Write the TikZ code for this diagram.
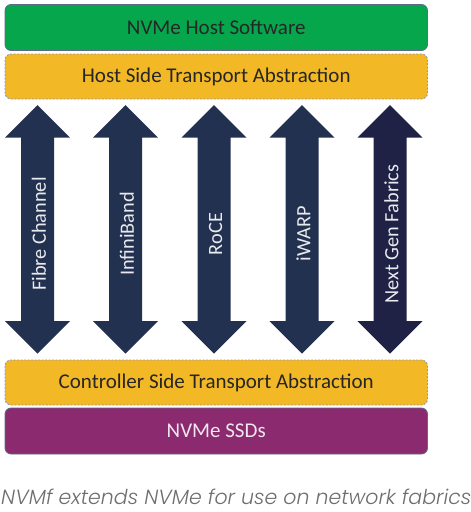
\documentclass[tikz,border=0pt]{standalone}
\usepackage{fontspec}
\setmainfont{Carlito}
\newfontfamily\capfont{Poppins Light Italic}
\definecolor{hostgreen}{HTML}{06A64D}
\definecolor{transyellow}{HTML}{F3B825}
\definecolor{ssdpurple}{HTML}{8C2A70}
\definecolor{arrownavy}{HTML}{233150}
\definecolor{arrowdark}{HTML}{1F2145}
\definecolor{edgeblue}{HTML}{5E6A88}
\definecolor{dashblue}{HTML}{8E9AB3}
\definecolor{captiongray}{HTML}{6E6E6E}
\tikzset{
  layerbox/.style={rectangle, rounded corners=6pt, minimum width=422.5pt, inner sep=0pt,
    font=\fontsize{21}{24}\selectfont},
  solidlayer/.style={layerbox, draw=edgeblue, line width=0.8pt},
  dashlayer/.style={layerbox, draw=dashblue, line width=0.9pt, dash pattern=on 2pt off 1.5pt, fill=transyellow, text=black!85},
  fabriclabel/.style={rotate=90, text=white!90!arrownavy, font=\fontsize{20.3}{22}\selectfont, inner sep=0pt},
}
\begin{document}
\begin{tikzpicture}[x=1pt,y=-1pt]
\useasboundingbox (0,0) rectangle (471,512);
\node[solidlayer, fill=hostgreen, text=black!85, minimum height=46pt] (host) at (216.25,27.5) {NVMe Host Software};
\node[dashlayer, minimum height=45pt] (hostta) at (216.25,76.5) {Host Side Transport Abstraction};
\node[dashlayer, minimum height=45pt] (ctrlta) at (216.25,382.5) {Controller Side Transport Abstraction};
\node[solidlayer, fill=ssdpurple, text=white!88!ssdpurple, minimum height=46pt] (ssd) at (216.25,431) {NVMe SSDs};
\foreach \cx/\lab/\col/\nm in {37.5/Fibre Channel/arrownavy/fc, 125.5/InfiniBand/arrownavy/ib, 214/RoCE/arrownavy/roce, 302/iWARP/arrownavy/iwarp, 390/Next Gen Fabrics/arrowdark/ngf}{
  \fill[fill=\col] (\cx,105) -- (\cx+32.5,137.5) -- (\cx+16.5,137.5) -- (\cx+16.5,321) -- (\cx+32.5,321) -- (\cx,353.5) -- (\cx-32.5,321) -- (\cx-16.5,321) -- (\cx-16.5,137.5) -- (\cx-32.5,137.5) -- cycle;
  \node[fabriclabel] (\nm) at (\cx+1.5,234) {\lab};
}
\node[anchor=base west, inner sep=0pt, text=captiongray, font=\capfont\fontsize{20.5}{22}\selectfont] (caption) at (1,504) {NVMf extends NVMe for use on network fabrics};
\end{tikzpicture}
\end{document}
